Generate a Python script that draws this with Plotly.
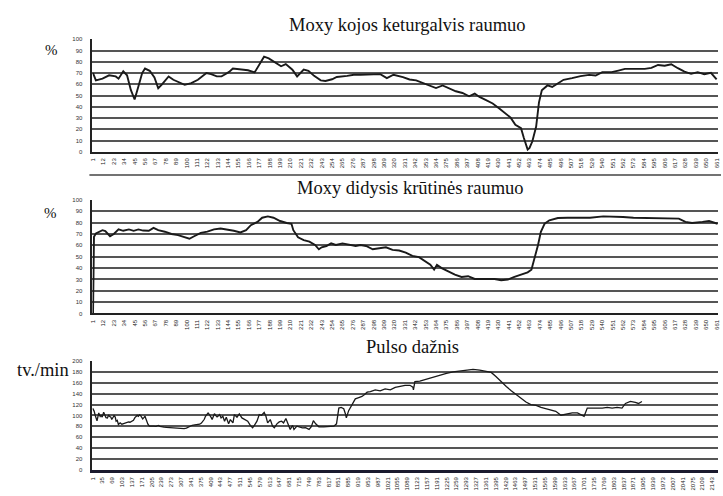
import plotly.graph_objects as go

# ---------------- data ----------------
leg_idx = [1, 4, 11, 18, 25, 28, 33, 37, 41, 45, 49, 53, 56, 61, 66, 70, 74, 81, 86, 93, 98, 105,
           112, 121, 126, 132, 137, 140, 145, 149, 156, 165, 172, 177, 182, 187, 193, 200, 205, 212,
           217, 224, 229, 235, 242, 247, 254, 259, 270, 277, 284, 294, 305, 312, 319, 329, 336, 343,
           350, 357, 364, 371, 378, 385, 392, 399, 405, 410, 417, 424, 431, 438, 443, 448, 454, 457,
           461, 463, 466, 470, 473, 476, 482, 487, 492, 499, 508, 517, 526, 533, 540, 550, 557, 564,
           575, 585, 592, 599, 606, 613, 620, 627, 634, 641, 648, 655, 661]
leg_pct = [70, 63.5, 65, 68, 67, 65, 71.5, 68, 55, 46.5, 58, 70, 74, 72, 66, 56.5, 60, 67, 64, 61,
           59.5, 61, 64, 70, 69, 67, 67, 68.5, 71, 74, 73.5, 72.5, 70.5, 77, 84.5, 83, 80, 76, 78, 73,
           67, 73, 72, 67.5, 63.5, 63, 64.5, 66.5, 67.5, 68.5, 68.5, 68.5, 69, 65.5, 68.5, 66.4, 64.3,
           63.5, 61, 59, 56.7, 59, 56.7, 53.8, 52.3, 49.4, 51.8, 48.8, 45.9, 43, 38.6, 34.2, 30.4, 24,
           21, 12.3, 2, 3.5, 9.4, 22.5, 44, 54.7, 59, 57.6, 60.5, 64, 65.5, 67.3, 68.4, 67.8, 70.8,
           70.8, 72.2, 73.7, 73.7, 73.7, 74.6, 77.2, 76.5, 77.8, 74.3, 71.3, 69.3, 70.8, 69, 70.2, 64.3]

chest_idx = [1, 2, 4, 11, 14, 19, 23, 28, 33, 39, 44, 49, 54, 60, 65, 70, 77, 84, 91, 98, 103, 108,
             115, 122, 129, 136, 143, 150, 157, 163, 168, 175, 180, 186, 192, 199, 206, 211, 213,
             218, 224, 230, 236, 240, 243, 248, 253, 258, 265, 272, 279, 284, 290, 297, 304, 311,
             318, 325, 332, 339, 346, 353, 358, 362, 365, 370, 377, 384, 391, 398, 405, 412, 419,
             426, 433, 440, 447, 454, 461, 465, 468, 472, 475, 479, 484, 493, 503, 527, 541, 552,
             562, 573, 587, 604, 621, 628, 635, 646, 653, 662]
chest_pct = [0, 67.5, 70.4, 73.3, 72.5, 68, 70, 74, 72.8, 74, 72.8, 74, 73, 72.8, 75.4, 73.3, 72, 70,
             69, 67, 65.8, 68, 71, 72, 74, 74.8, 74, 72.8, 71.3, 73.3, 77.7, 80.6, 84.3, 85.5, 84.3,
             81.4, 79.7, 79, 73.3, 67, 64.6, 63.2, 60.3, 56.5, 58.3, 59.4, 61.7, 60.3, 61.7, 60.3,
             59.4, 60.3, 59.4, 56.5, 57.4, 58.3, 56, 55.4, 53.6, 50.7, 49.6, 45.8, 42.9, 38.6, 42.9,
             40, 37.1, 34.2, 32.2, 32.8, 30.4, 30.4, 29.9, 30.4, 29.3, 29.9, 32.2, 34.2, 36.2, 38.6,
             47.2, 60.3, 71.9, 79.1, 82, 84, 84.3, 84.3, 85.5, 85.5, 85, 84.3, 84, 84, 83.5, 80.6,
             79.7, 80.6, 81.4, 79]

pulse_idx = [1, 6, 10, 16, 22, 27, 30, 34, 39, 44, 47, 52, 56, 59, 64, 67, 72, 75, 79, 82, 86, 90,
             96, 102, 108, 113, 119, 125, 130, 136, 142, 147, 151, 155, 159, 163, 167, 171, 174,
             178, 182, 185, 188, 192, 197, 204, 211, 220, 228, 234, 239, 248, 256, 265, 274, 282,
             291, 300, 308, 317, 325, 331, 336, 345, 354, 362, 371, 377, 382, 387, 391, 395, 400,
             404, 408, 411, 414, 418, 422, 426, 431, 435, 440, 445, 451, 457, 463, 471, 477, 486,
             491, 500, 508, 517, 526, 537, 546, 554, 560, 569, 577, 585, 594, 600, 606, 615, 623,
             629, 638, 646, 654, 661, 669, 677, 684, 692, 697, 707, 715, 726, 737, 749, 757, 764,
             772, 783, 800, 818, 835, 844, 852, 860, 869, 875, 878, 886, 898, 909, 921, 932, 940,
             950, 961, 978, 995, 1012, 1030, 1047, 1064, 1081, 1098, 1108, 1110, 1115, 1132, 1155,
             1178, 1201, 1224, 1247, 1270, 1293, 1316, 1339, 1362, 1379, 1396, 1413, 1431, 1448,
             1465, 1482, 1499, 1516, 1534, 1551, 1568, 1585, 1602, 1620, 1637, 1659, 1677, 1692,
             1700, 1711, 1728, 1745, 1763, 1780, 1797, 1814, 1831, 1843, 1860, 1877, 1888, 1900]
pulse_bpm = [113, 108, 100, 90, 104.5, 98, 100, 97, 106, 100, 96, 95.5, 101, 98.5, 97, 92.5, 99,
             99.7, 97, 89.5, 91, 83.4, 86.4, 84, 85.2, 86, 87.6, 88, 87.6, 90, 91.2, 96, 98.5, 100,
             98.5, 101, 99.7, 96, 93.6, 96, 98.5, 94, 89.5, 84, 80.4, 81, 80.4, 80, 81.6, 80, 79.2,
             78.5, 78, 77.5, 78, 77, 76.8, 76, 75.6, 76, 76.8, 78.5, 80.4, 82, 82.8, 83.5, 84, 86,
             89.5, 93, 98.5, 102, 104.5, 102, 99.7, 96, 92.5, 98, 103.3, 100, 97.3, 99, 101.5, 95.5,
             98.5, 89.5, 96.7, 84.6, 92.5, 86.4, 101.5, 96.7, 102.7, 95.5, 92.5, 89.5, 81.8, 77.4,
             81.8, 89.5, 101.5, 100.3, 105.5, 98.5, 86.4, 92.5, 80.4, 77.4, 84.6, 88.2, 89.5, 86.4,
             94.3, 84.6, 74.4, 81.8, 74.4, 80.4, 79.2, 77.1, 77.4, 74.4, 79.2, 90.6, 84.6, 79.2,
             79.2, 79.2, 80.4, 84.6, 113.6, 114.8, 112.4, 102.7, 95.5, 108.8, 120.8, 130.5, 132.8,
             134.8, 137.8, 142.7, 143.8, 146.8, 145, 148.6, 146.8, 151.6, 153.5, 155.3, 155.3, 152,
             146.8, 161.9, 163.1, 166.8, 171, 174, 177, 180, 181.8, 183, 184.3, 183, 181.2, 178.8,
             171, 161.9, 153, 145.3, 138, 130.6, 124.6, 119.8, 118.5, 114.8, 112.4, 110.6, 107.6,
             100.4, 102.8, 104.6, 104.6, 100.4, 98.5, 113.6, 113.6, 112.4, 113.6, 114.8, 113.6,
             114.8, 113.6, 122, 125.6, 123.8, 122, 125.6]

moxy_ticks = [1, 12, 23, 34, 45, 56, 67, 78, 89, 100, 111, 122, 133, 144, 155, 166, 177, 188, 199,
              210, 221, 232, 243, 254, 265, 276, 287, 298, 309, 320, 331, 342, 353, 364, 375, 386,
              397, 408, 419, 430, 441, 452, 463, 474, 485, 496, 507, 518, 529, 540, 551, 562, 573,
              584, 595, 606, 617, 628, 639, 650, 661]
pulse_ticks = [1, 35, 69, 103, 137, 171, 205, 239, 273, 307, 341, 375, 409, 443, 477, 511, 545,
               579, 613, 647, 681, 715, 749, 783, 817, 851, 885, 919, 953, 987, 1021, 1055, 1089,
               1123, 1157, 1191, 1225, 1259, 1293, 1327, 1361, 1395, 1429, 1463, 1497, 1531, 1565,
               1599, 1633, 1667, 1701, 1735, 1769, 1803, 1837, 1871, 1905, 1939, 1973, 2007, 2041,
               2075, 2109, 2143]
pct_ticks = [0, 10, 20, 30, 40, 50, 60, 70, 80, 90, 100]
bpm_ticks = [0, 20, 40, 60, 80, 100, 120, 140, 160, 180, 200]

titles = ["Moxy kojos keturgalvis raumuo", "Moxy didysis krūtinės raumuo", "Pulso dažnis"]
unit_pct = "%"
unit_bpm = "tv./min"

# ---------------- figure ----------------
W, H = 723, 496
SERIF = "Liberation Serif, Times New Roman, serif"
SANS = "Liberation Sans, Arial, sans-serif"
GRID = "#555555"
LINE = "#1a1a1a"


def ydom(px_bottom, px_top):
    return [1 - px_bottom / H, 1 - px_top / H]


xdom = [90 / W, 720 / W]

fig = go.Figure()
fig.add_trace(go.Scatter(x=leg_idx, y=leg_pct, mode="lines", xaxis="x", yaxis="y",
                         line=dict(color=LINE, width=1.9), showlegend=False))
fig.add_trace(go.Scatter(x=chest_idx, y=chest_pct, mode="lines", xaxis="x2", yaxis="y2",
                         line=dict(color=LINE, width=1.9), showlegend=False))
fig.add_trace(go.Scatter(x=pulse_idx, y=pulse_bpm, mode="lines", xaxis="x3", yaxis="y3",
                         line=dict(color=LINE, width=1.3), showlegend=False))

common_x = dict(domain=xdom, showgrid=False, zeroline=False, showline=True,
                linecolor="#222", linewidth=2, ticks="", tickangle=-90,
                tickfont=dict(family=SANS, size=6, color="#222"), ticklabelstandoff=2)
common_y = dict(showgrid=True, gridcolor=GRID, gridwidth=1.6, zeroline=False, showline=True,
                linecolor="#222", linewidth=1.6, ticks="",
                tickfont=dict(family=SANS, size=6, color="#333"), ticklabelstandoff=7)

fig.update_layout(
    width=W, height=H, margin=dict(l=0, r=0, t=0, b=0),
    paper_bgcolor="white", plot_bgcolor="white",
    xaxis=dict(common_x, anchor="y", range=[0.3, 662.5], tickvals=moxy_ticks,
               ticktext=[str(t) for t in moxy_ticks]),
    yaxis=dict(common_y, anchor="x", domain=ydom(150.7, 36.7), range=[0, 100],
               tickvals=pct_ticks, ticktext=[str(t) for t in pct_ticks]),
    xaxis2=dict(common_x, anchor="y2", range=[0.3, 662.5], tickvals=moxy_ticks,
                ticktext=[str(t) for t in moxy_ticks]),
    yaxis2=dict(common_y, anchor="x2", domain=ydom(314.3, 199.3), range=[0, 100],
                tickvals=pct_ticks, ticktext=[str(t) for t in pct_ticks]),
    xaxis3=dict(common_x, anchor="y3", range=[0, 2163], tickvals=pulse_ticks,
                ticktext=[str(t) for t in pulse_ticks], linewidth=2.6, linecolor="#1a1a2e"),
    yaxis3=dict(common_y, anchor="x3", domain=ydom(472.7, 362.3), range=[0, 200],
                tickvals=bpm_ticks, ticktext=[str(t) for t in bpm_ticks]),
)

ann = []
for t, xc, yc in zip(titles, [407, 410, 412], [22, 187, 348]):
    ann.append(dict(text=t, x=xc / W, y=1 - yc / H, xref="paper", yref="paper",
                    showarrow=False, xanchor="center", yanchor="middle",
                    font=dict(family=SERIF, size=18.5, color="#111")))
ann.append(dict(text=unit_pct, x=49 / W, y=1 - 48 / H, xref="paper", yref="paper",
                showarrow=False, xanchor="center", yanchor="middle",
                font=dict(family=SERIF, size=15, color="#111")))
ann.append(dict(text=unit_pct, x=48 / W, y=1 - 213 / H, xref="paper", yref="paper",
                showarrow=False, xanchor="center", yanchor="middle",
                font=dict(family=SERIF, size=15, color="#111")))
ann.append(dict(text=unit_bpm, x=40 / W, y=1 - 371 / H, xref="paper", yref="paper",
                showarrow=False, xanchor="center", yanchor="middle",
                font=dict(family=SERIF, size=18.5, color="#111")))
fig.update_layout(annotations=ann)

fig.add_shape(type="line", xref="paper", yref="paper", x0=87 / W, x1=1, y0=1 - 174 / H,
              y1=1 - 174 / H, line=dict(color="#444", width=1.5))

fig.write_html("out.html")
